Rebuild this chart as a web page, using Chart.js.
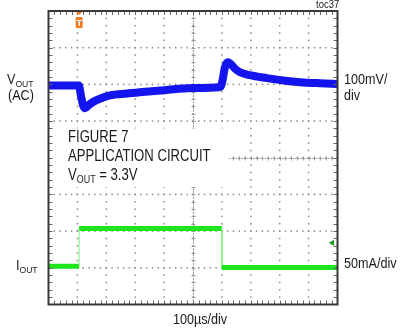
<!DOCTYPE html>
<html>
<head>
<meta charset="utf-8">
<script src="https://cdn.jsdelivr.net/npm/chart.js@4.4.1/dist/chart.umd.min.js"></script>
<style>
  html, body { margin: 0; padding: 0; background: #fff; overflow: hidden; }
  canvas { display: block; }
</style>
</head>
<body>
<canvas id="scope" width="401" height="332"></canvas>
<script>
// everything is in screen divisions: x 0..10 div (100us/div), y 0..8 div
const voutTime = [0, 1.05, 1.12, 1.2, 1.27, 1.37, 1.54, 1.78, 2.13, 2.72, 3.34, 3.86, 5.0, 5.95,
                  6.02, 6.1, 6.2, 6.3, 6.45, 6.63, 6.97, 7.56, 8.18, 8.7, 9.39, 10];
const voutDiv = [5.97, 5.97, 5.7, 5.42, 5.35, 5.42, 5.52, 5.61, 5.7, 5.75, 5.8, 5.83, 5.9, 5.93,
                 6.1, 6.45, 6.6, 6.56, 6.43, 6.33, 6.25, 6.17, 6.1, 6.06, 6.03, 6.01];
const ioutTime = [0, 1.06, 1.06, 6.0, 6.0, 10];
const ioutDiv = [1.04, 1.04, 2.07, 2.07, 1.01, 1.01];
const markerTime = [9.82];
const markerDiv = [1.68];
const triggerTime = 1.06;
const xDivs = 10;
const yDivs = 8;

const FONT = '"Liberation Sans", Arial, sans-serif';

function squeezeText(ctx, txt, x, y, size, sx, align) {
    ctx.save();
    ctx.font = size + 'px ' + FONT;
    ctx.textAlign = align || 'left';
    ctx.textBaseline = 'alphabetic';
    ctx.translate(x, y);
    ctx.scale(sx, 1);
    ctx.fillText(txt, 0, 0);
    const w = ctx.measureText(txt).width * sx;
    ctx.restore();
    return w;
}

function subText(ctx, main, sub, x, y, size, sx) {
    const w = squeezeText(ctx, main, x, y, size, sx);
    return w + squeezeText(ctx, sub, x + w, y + 3, size * 0.68, sx);
}

const scopeDecor = {
    id: 'scopeDecor',
    beforeDatasetsDraw(chart) {
        const { ctx, chartArea: a, scales: { x, y } } = chart;
        ctx.save();

        // dotted graticule, one dot per minor division
        ctx.fillStyle = '#8a8a8a';
        for (let k = 1; k < xDivs; k++) {
            const px = x.getPixelForValue(k);
            for (let v = 0.2; v < yDivs; v += 0.2) ctx.fillRect(px - 0.75, y.getPixelForValue(v) - 0.75, 1.5, 1.5);
        }
        for (let k = 1; k < yDivs; k++) {
            const py = y.getPixelForValue(k);
            for (let v = 0.2; v < xDivs; v += 0.2) ctx.fillRect(x.getPixelForValue(v) - 0.75, py - 0.75, 1.5, 1.5);
        }

        // centre cross with minor ticks
        const cx = Math.round(x.getPixelForValue(xDivs / 2)) + 0.5;
        const cy = Math.round(y.getPixelForValue(yDivs / 2)) + 0.5;
        ctx.strokeStyle = '#9a9a9a';
        ctx.lineWidth = 1;
        ctx.setLineDash([2, 1]);
        ctx.beginPath();
        ctx.moveTo(cx, a.top); ctx.lineTo(cx, a.bottom);
        ctx.moveTo(a.left, cy); ctx.lineTo(a.right, cy);
        ctx.stroke();
        ctx.setLineDash([]);
        ctx.beginPath();
        for (let v = 0.2; v < xDivs; v += 0.2) {
            const px = Math.round(x.getPixelForValue(v)) + 0.5;
            ctx.moveTo(px, cy - 2); ctx.lineTo(px, cy + 2);
        }
        for (let v = 0.2; v < yDivs; v += 0.2) {
            const py = Math.round(y.getPixelForValue(v)) + 0.5;
            ctx.moveTo(cx - 2, py); ctx.lineTo(cx + 2, py);
        }
        ctx.stroke();

        // white box behind the figure note
        const bx0 = x.getPixelForValue(0.05), bx1 = x.getPixelForValue(6.25);
        const by0 = y.getPixelForValue(4.8), by1 = y.getPixelForValue(3.2);
        ctx.fillStyle = '#fff';
        ctx.fillRect(bx0, by0, bx1 - bx0, by1 - by0);
        ctx.restore();
    },
    afterDraw(chart) {
        const { ctx, chartArea: a, scales: { x, y } } = chart;
        ctx.save();
        // border minor ticks
        ctx.strokeStyle = '#666';
        ctx.lineWidth = 1;
        ctx.beginPath();
        for (let v = 0.2; v < xDivs; v += 0.2) {
            const px = Math.round(x.getPixelForValue(v)) + 0.5;
            ctx.moveTo(px, a.top); ctx.lineTo(px, a.top + 4);
            ctx.moveTo(px, a.bottom); ctx.lineTo(px, a.bottom - 4);
        }
        for (let v = 0.2; v < yDivs; v += 0.2) {
            const py = Math.round(y.getPixelForValue(v)) + 0.5;
            ctx.moveTo(a.left, py); ctx.lineTo(a.left + 4, py);
            ctx.moveTo(a.right, py); ctx.lineTo(a.right - 4, py);
        }
        ctx.stroke();

        // frame
        ctx.strokeStyle = '#383838';
        ctx.lineWidth = 2;
        ctx.strokeRect(a.left, a.top, a.width, a.height);

        // trigger marker
        const tx = x.getPixelForValue(triggerTime);
        ctx.fillStyle = '#f27a22';
        ctx.beginPath();
        ctx.moveTo(tx - 3, a.top + 1); ctx.lineTo(tx + 3, a.top + 1); ctx.lineTo(tx, a.top + 4);
        ctx.closePath();
        ctx.fill();
        ctx.beginPath();
        ctx.roundRect(tx - 3.5, a.top + 6, 7, 11, 1.5);
        ctx.fill();
        ctx.fillStyle = '#fff';
        ctx.font = 'bold 9px ' + FONT;
        ctx.textAlign = 'center';
        ctx.fillText('T', tx, a.top + 15);

        // labels
        ctx.fillStyle = '#1a1a1a';
        subText(ctx, 'V', 'OUT', 7, 84, 14, 0.9);
        squeezeText(ctx, '(AC)', 8, 100, 14, 0.9);
        squeezeText(ctx, '100mV/', 344, 84, 14, 0.9);
        squeezeText(ctx, 'div', 344, 100, 14, 0.9);
        subText(ctx, 'I', 'OUT', 16, 270, 14, 0.9);
        squeezeText(ctx, '50mA/div', 344, 268, 14, 0.9);
        squeezeText(ctx, '100\u00b5s/div', 200, 324, 14, 0.9, 'center');
        squeezeText(ctx, 'toc37', 316, 8, 10, 0.95);

        squeezeText(ctx, 'FIGURE 7', 68, 142, 16, 0.82);
        squeezeText(ctx, 'APPLICATION CIRCUIT', 68, 161, 16, 0.82);
        const vw = subText(ctx, 'V', 'OUT', 68, 180, 16, 0.82);
        squeezeText(ctx, ' = 3.3V', 68 + vw, 180, 16, 0.82);
        ctx.restore();
    }
};

const ctx = document.getElementById('scope').getContext('2d');
new Chart(ctx, {
    type: 'line',
    data: {
        datasets: [
            {
                label: 'VOUT',
                data: voutTime.map((t, i) => ({ x: t, y: voutDiv[i] })),
                borderColor: '#1414ee',
                borderWidth: 8,
                pointRadius: 0,
                cubicInterpolationMode: 'monotone',
                borderJoinStyle: 'round'
            },
            {
                label: 'IOUT',
                data: ioutTime.map((t, i) => ({ x: t, y: ioutDiv[i] })),
                borderColor: '#1ee61e',
                borderWidth: 5,
                pointRadius: 0,
                tension: 0,
                segment: {
                    borderWidth: c => c.p0.parsed.x === c.p1.parsed.x ? 1 : 5,
                    borderColor: c => c.p0.parsed.x === c.p1.parsed.x ? '#7ef07e' : '#1ee61e'
                }
            },
            {
                label: 'CH2 level',
                data: markerTime.map((t, i) => ({ x: t, y: markerDiv[i] })),
                showLine: false,
                pointStyle: 'triangle',
                rotation: -90,
                pointRadius: 3.5,
                pointBackgroundColor: '#1f9a1f',
                pointBorderWidth: 0
            }
        ]
    },
    options: {
        responsive: false,
        animation: false,
        events: [],
        layout: { padding: { left: 48.5, right: 63.5, top: 11, bottom: 27.5 } },
        plugins: { legend: { display: false }, tooltip: { enabled: false } },
        scales: {
            x: {
                type: 'linear', min: 0, max: xDivs,
                ticks: { display: false, stepSize: 1 },
                grid: { drawOnChartArea: false, drawTicks: false },
                border: { display: false }
            },
            y: {
                type: 'linear', min: 0, max: yDivs,
                ticks: { display: false, stepSize: 1 },
                grid: { drawOnChartArea: false, drawTicks: false },
                border: { display: false }
            }
        }
    },
    plugins: [scopeDecor]
});
</script>
</body>
</html>
